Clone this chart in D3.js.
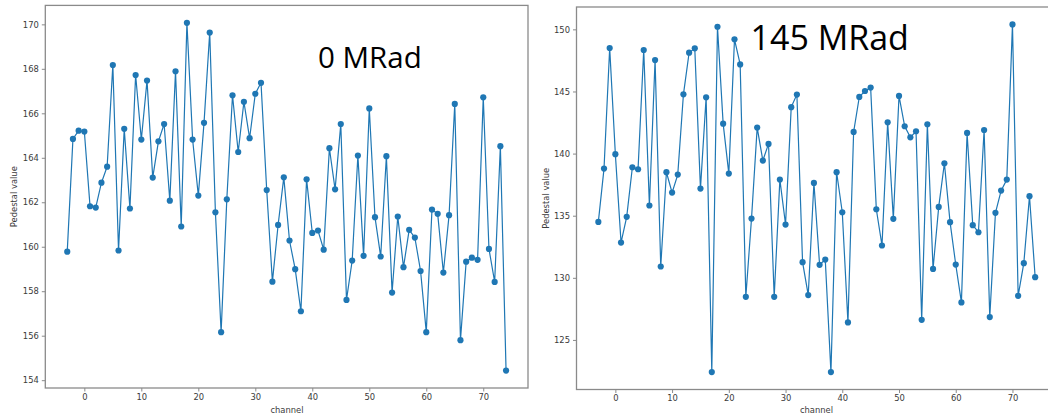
<!DOCTYPE html>
<html>
<head>
<meta charset="utf-8">
<script src="https://cdn.jsdelivr.net/npm/d3@7"></script>
<style>
  html, body { margin: 0; padding: 0; background: #fff; }
  svg { display: block; }
</style>
</head>
<body>
<svg id="chart" width="1048" height="414"></svg>
<script>
const channels = [-3,-2,-1,0,1,2,3,4,5,6,7,8,9,10,11,12,13,14,15,16,17,18,19,20,21,22,23,24,25,26,27,28,29,30,31,32,33,34,35,36,37,38,39,40,41,42,43,44,45,46,47,48,49,50,51,52,53,54,55,56,57,58,59,60,61,62,63,64,65,66,67,68,69,70,71,72,73,74];

const pedestal0 = [159.78,164.85,165.22,165.18,161.82,161.76,162.88,163.60,168.17,159.83,
  165.30,161.72,167.72,164.82,167.47,163.11,164.74,165.52,162.07,167.89,
  160.91,170.07,164.82,162.30,165.57,169.63,161.55,156.16,162.13,166.81,
  164.26,166.52,164.88,166.88,167.37,162.55,158.43,160.98,163.12,160.28,
  158.99,157.10,163.03,160.62,160.73,159.87,164.43,162.58,165.52,157.61,
  159.38,164.10,159.59,166.22,161.33,159.56,164.07,157.94,161.36,159.08,
  160.76,160.41,158.91,156.16,161.67,161.48,158.84,161.42,166.42,155.80,
  159.33,159.51,159.41,166.72,159.90,158.42,164.52,154.43];

const pedestal145 = [134.50,138.79,148.50,139.95,132.84,134.91,138.90,138.74,148.34,135.82,
  147.53,130.91,138.50,136.86,138.31,144.77,148.12,148.47,137.18,144.53,
  122.41,150.21,142.41,138.39,149.20,147.18,128.47,134.77,142.09,139.44,
  140.78,128.47,137.91,134.29,143.74,144.75,131.26,128.61,137.64,131.05,
  131.47,122.41,138.50,135.28,126.41,141.74,144.56,145.04,145.31,135.52,
  132.60,142.52,134.75,144.64,142.20,141.31,141.80,126.62,142.36,130.72,
  135.71,139.22,134.48,131.07,128.02,141.66,134.24,133.67,141.90,126.84,
  135.23,137.02,137.91,150.40,128.55,131.18,136.57,130.05];

const xTicks = [0,10,20,30,40,50,60,70];
const yTicks0 = [154,156,158,160,162,164,166,168,170];
const yTicks145 = [125,130,135,140,145,150];
const labels = ["0 MRad", "145 MRad"];
const xLabel = "channel";
const yLabel = "Pedestal value";

const svg = d3.select("#chart");
const BLUE = "#1f77b4";
const SPINE = "#8a8a8a";
const TXT = "#3a3a3a";
const FONT = "DejaVu Sans, sans-serif";

function panel(cfg) {
  const g = svg.append("g");
  const xExt = d3.extent(channels);
  const xPad = (xExt[1] - xExt[0]) * 0.05;
  const yExt = d3.extent(cfg.values);
  const yPad = (yExt[1] - yExt[0]) * 0.05;
  const x = d3.scaleLinear().domain([xExt[0] - xPad, xExt[1] + xPad]).range([cfg.left, cfg.right]);
  const y = d3.scaleLinear().domain([yExt[0] - yPad, yExt[1] + yPad]).range([cfg.bottom, cfg.top]);

  // frame
  g.append("rect")
    .attr("x", cfg.left).attr("y", cfg.top)
    .attr("width", cfg.right - cfg.left).attr("height", cfg.bottom - cfg.top)
    .attr("fill", "none").attr("stroke", SPINE).attr("stroke-width", 1.3);

  // axes
  const xa = g.append("g").attr("transform", `translate(0,${cfg.bottom})`)
    .call(d3.axisBottom(x).tickValues(xTicks).tickSize(3.5).tickPadding(2.5).tickFormat(d3.format("d")));
  const ya = g.append("g").attr("transform", `translate(${cfg.left},0)`)
    .call(d3.axisLeft(y).tickValues(cfg.yTicks).tickSize(3.5).tickPadding(3).tickFormat(d3.format("d")));
  [xa, ya].forEach(a => {
    a.select(".domain").remove();
    a.selectAll(".tick line").attr("stroke", SPINE).attr("stroke-width", 1);
    a.selectAll(".tick text").attr("fill", TXT).style("font-family", FONT).style("font-size", "8.4px");
  });

  // axis labels
  g.append("text")
    .attr("x", (cfg.left + Math.min(cfg.right, 1048 + (cfg.right - 1048)))/2)
    .attr("x", cfg.xLabelX)
    .attr("y", 412.5)
    .attr("text-anchor", "middle")
    .attr("fill", TXT).style("font-family", FONT).style("font-size", "8.4px")
    .text(xLabel);
  g.append("text")
    .attr("transform", `translate(${cfg.yLabelX},${(cfg.top + cfg.bottom)/2}) rotate(-90)`)
    .attr("text-anchor", "middle")
    .attr("fill", TXT).style("font-family", FONT).style("font-size", "8.4px")
    .text(yLabel);

  // line + markers
  const pts = channels.map((c, i) => [c, cfg.values[i]]);
  g.append("path")
    .datum(pts)
    .attr("fill", "none").attr("stroke", BLUE).attr("stroke-width", 1.2)
    .attr("d", d3.line().x(d => x(d[0])).y(d => y(d[1])));
  g.selectAll("circle.pt").data(pts).enter().append("circle")
    .attr("class", "pt")
    .attr("cx", d => x(d[0])).attr("cy", d => y(d[1]))
    .attr("r", 3.1).attr("fill", BLUE);

  // annotation
  g.append("text")
    .attr("x", cfg.annX).attr("y", cfg.annY)
    .attr("fill", "#000")
    .style("font-family", "'Open Sans', sans-serif")
    .style("font-size", cfg.annSize + "px")
    .text(cfg.label);
}

panel({ values: pedestal0, yTicks: yTicks0, left: 45.3, right: 528, top: 5.4, bottom: 388,
        yLabelX: 17.3, xLabelX: 287, label: labels[0], annX: 318, annY: 67.7, annSize: 29.5 });
panel({ values: pedestal145, yTicks: yTicks145, left: 576.5, right: 1057, top: 7, bottom: 389.5,
        yLabelX: 549, xLabelX: 816.5, label: labels[1], annX: 750.5, annY: 50, annSize: 34 });
</script>
</body>
</html>
